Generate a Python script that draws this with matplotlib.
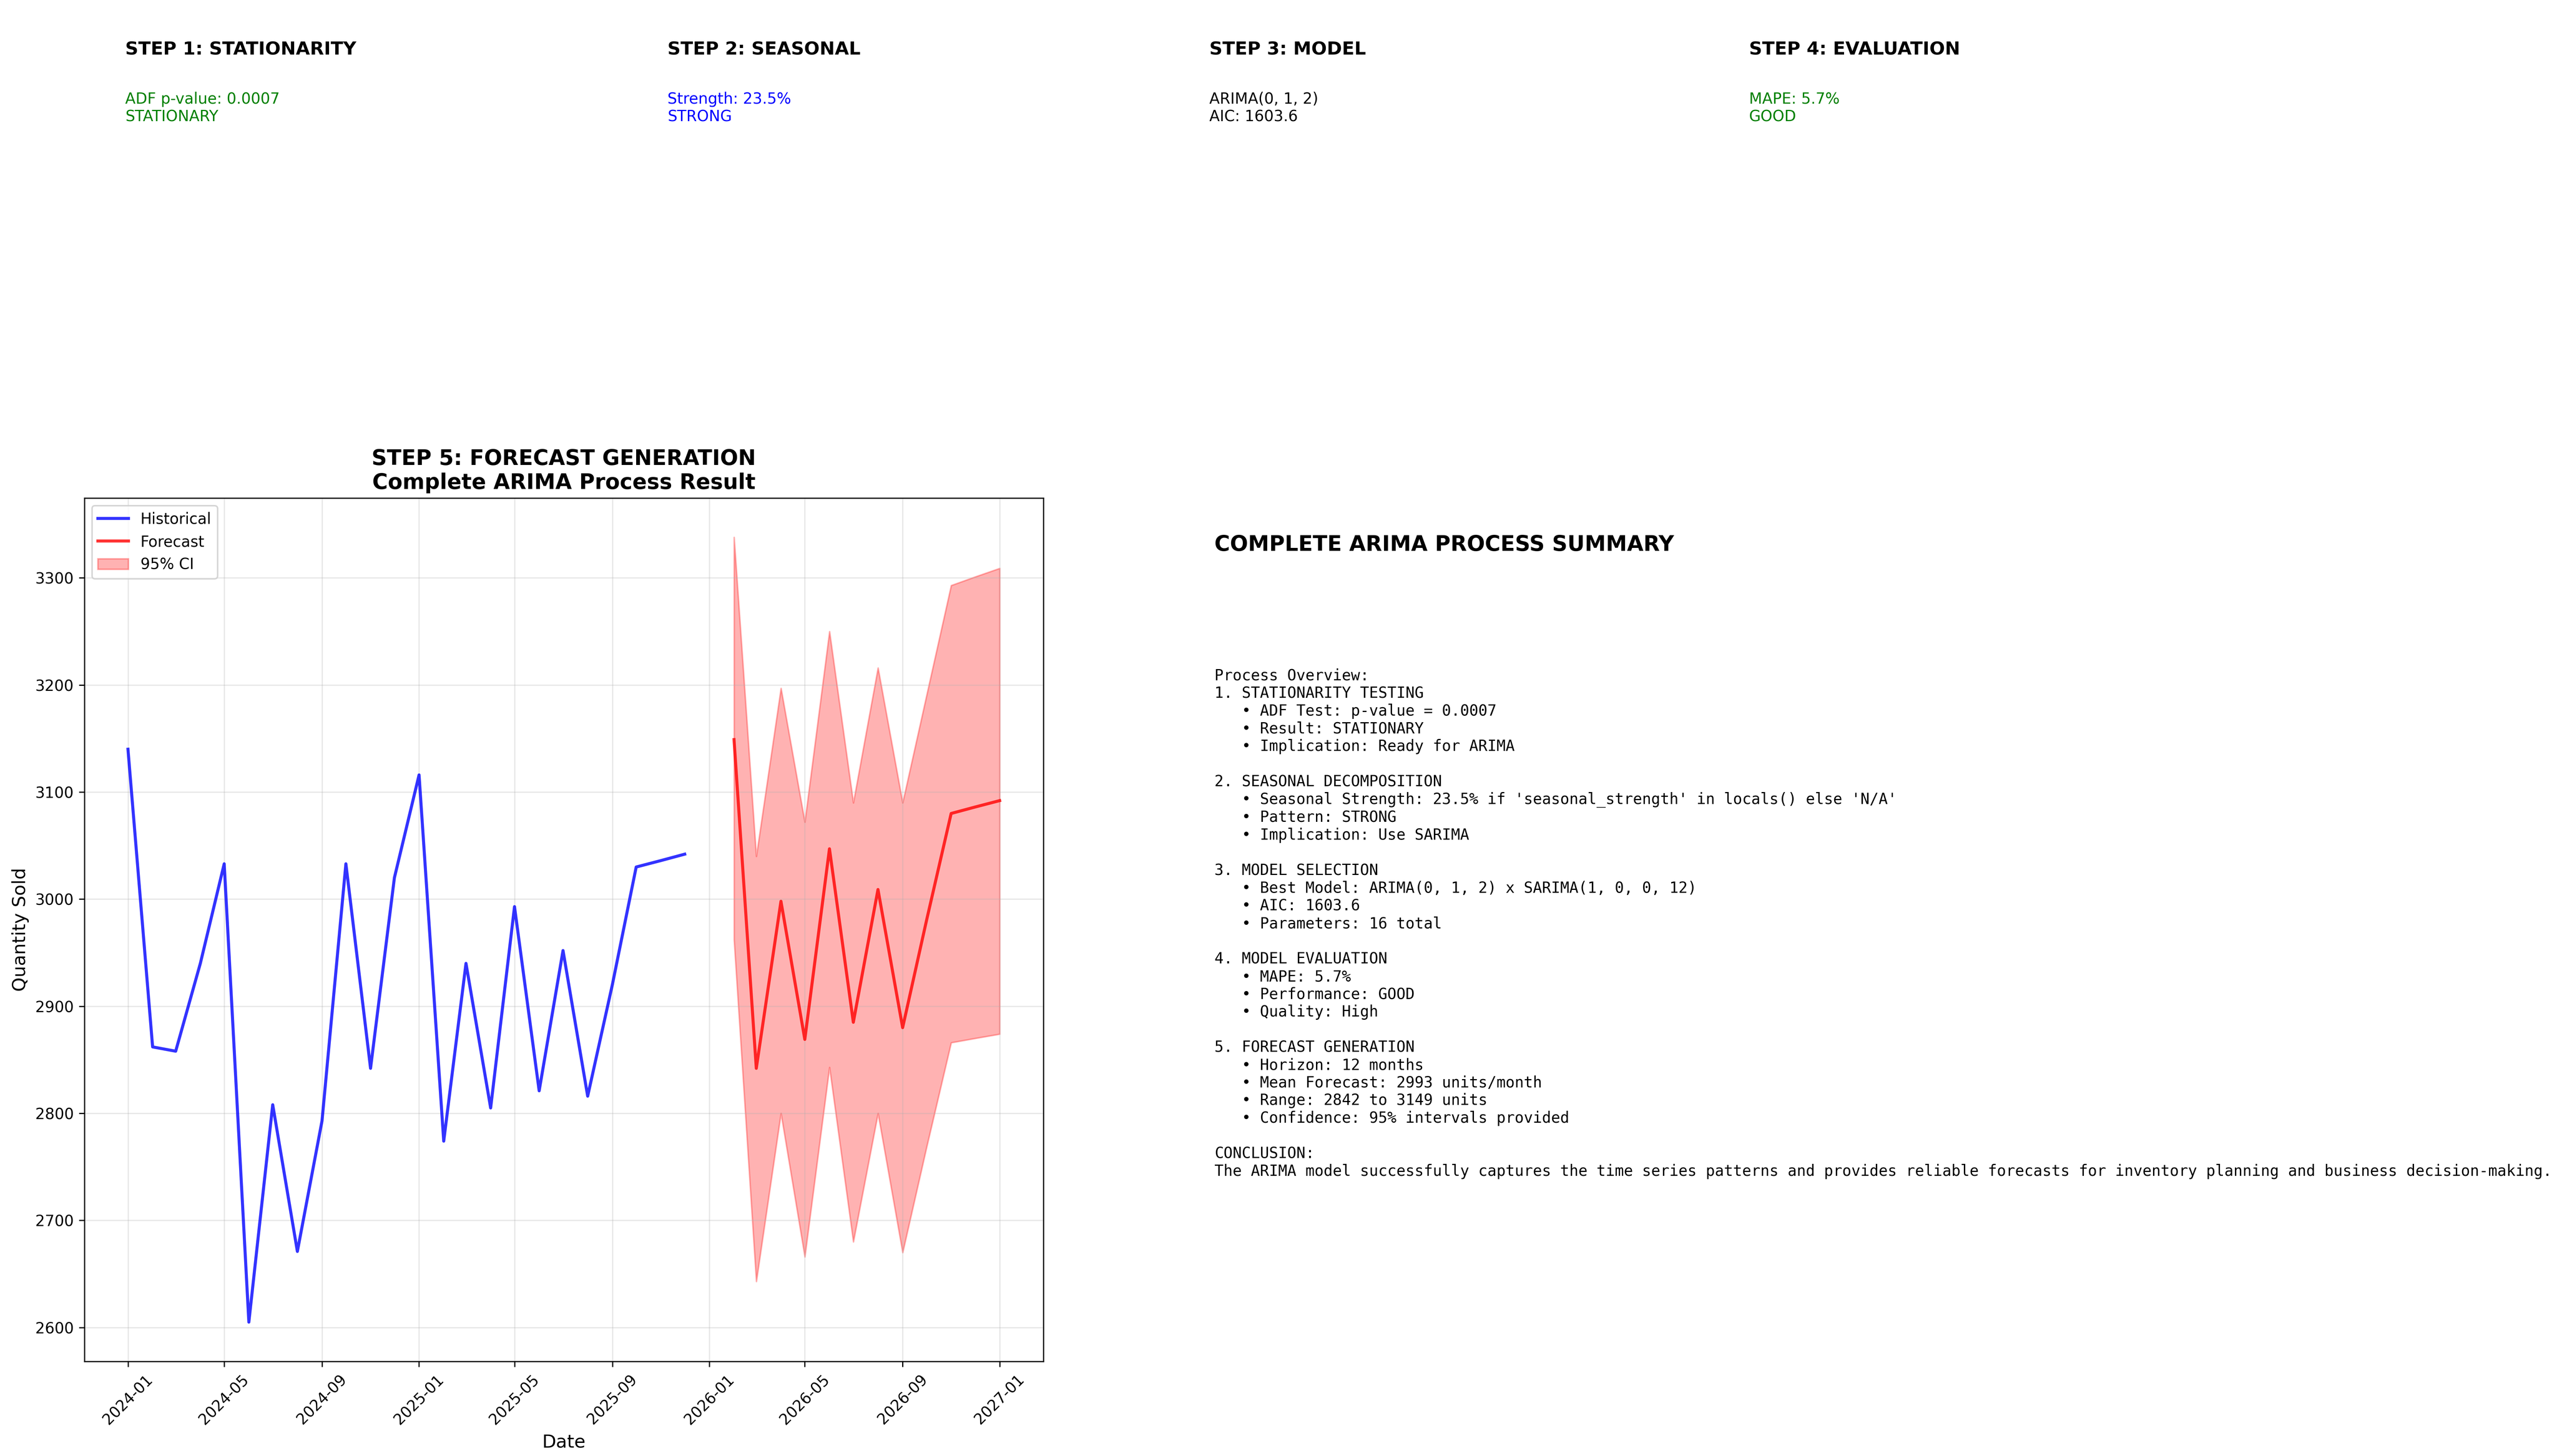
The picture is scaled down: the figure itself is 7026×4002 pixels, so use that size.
import matplotlib.pyplot as plt
import pandas as pd

hist_dates = pd.date_range("2024-01-01", periods=24, freq="MS")
hist_vals = [3140, 2862, 2858, 2940, 3033, 2605, 2808, 2671, 2793, 3033, 2842, 3020,
             3116, 2774, 2940, 2805, 2993, 2821, 2952, 2816, 2920, 3030, 3036, 3042]
fc_dates = pd.date_range("2026-02-01", periods=12, freq="MS")
fc_vals = [3149, 2842, 2998, 2869, 3047, 2885, 3009, 2880, 2980, 3080, 3086, 3092]
fc_upper = [3338, 3040, 3197, 3072, 3250, 3090, 3216, 3090, 3190, 3293, 3301, 3309]
fc_lower = [2962, 2643, 2800, 2666, 2843, 2680, 2800, 2670, 2768, 2866, 2870, 2874]

steps = [("STEP 1: STATIONARITY", "ADF p-value: 0.0007\nSTATIONARY", "green"),
         ("STEP 2: SEASONAL", "Strength: 23.5%\nSTRONG", "blue"),
         ("STEP 3: MODEL", "ARIMA(0, 1, 2)\nAIC: 1603.6", "black"),
         ("STEP 4: EVALUATION", "MAPE: 5.7%\nGOOD", "green")]

summary = """Process Overview:
1. STATIONARITY TESTING
   \u2022 ADF Test: p-value = 0.0007
   \u2022 Result: STATIONARY
   \u2022 Implication: Ready for ARIMA

2. SEASONAL DECOMPOSITION
   \u2022 Seasonal Strength: 23.5% if 'seasonal_strength' in locals() else 'N/A'
   \u2022 Pattern: STRONG
   \u2022 Implication: Use SARIMA

3. MODEL SELECTION
   \u2022 Best Model: ARIMA(0, 1, 2) x SARIMA(1, 0, 0, 12)
   \u2022 AIC: 1603.6
   \u2022 Parameters: 16 total

4. MODEL EVALUATION
   \u2022 MAPE: 5.7%
   \u2022 Performance: GOOD
   \u2022 Quality: High

5. FORECAST GENERATION
   \u2022 Horizon: 12 months
   \u2022 Mean Forecast: 2993 units/month
   \u2022 Range: 2842 to 3149 units
   \u2022 Confidence: 95% intervals provided

CONCLUSION:
The ARIMA model successfully captures the time series patterns and provides reliable forecasts for inventory planning and business decision-making."""

fig = plt.figure(figsize=(23.42, 13.34), dpi=300)

xs = [0.049, 0.261, 0.473, 0.684]
for x, (head, body, col) in zip(xs, steps):
    fig.text(x, 0.972, head, fontsize=12, fontweight='bold', va='top')
    fig.text(x, 0.937, body, fontsize=10, color=col, va='top')

ax = fig.add_axes([0.033, 0.065, 0.375, 0.593])
ax.plot(hist_dates, hist_vals, color='blue', linewidth=2, alpha=0.8, label='Historical')
ax.plot(fc_dates, fc_vals, color='red', linewidth=2, alpha=0.8, label='Forecast')
ax.fill_between(fc_dates, fc_lower, fc_upper, color='red', alpha=0.3, label='95% CI')
ax.set_title("STEP 5: FORECAST GENERATION\nComplete ARIMA Process Result", fontsize=14, fontweight='bold')
ax.set_xlabel("Date", fontsize=12)
ax.set_ylabel("Quantity Sold", fontsize=12)
ax.legend(loc='upper left', fontsize=10)
ax.grid(True, alpha=0.3)
ax.tick_params(axis='x', rotation=45)
ax.tick_params(labelsize=10)

fig.text(0.475, 0.633, "COMPLETE ARIMA PROCESS SUMMARY", fontsize=14, fontweight='bold', va='top')
fig.text(0.475, 0.541, summary, fontsize=10, family='monospace', va='top')

fig.savefig("out.png", dpi=300)
